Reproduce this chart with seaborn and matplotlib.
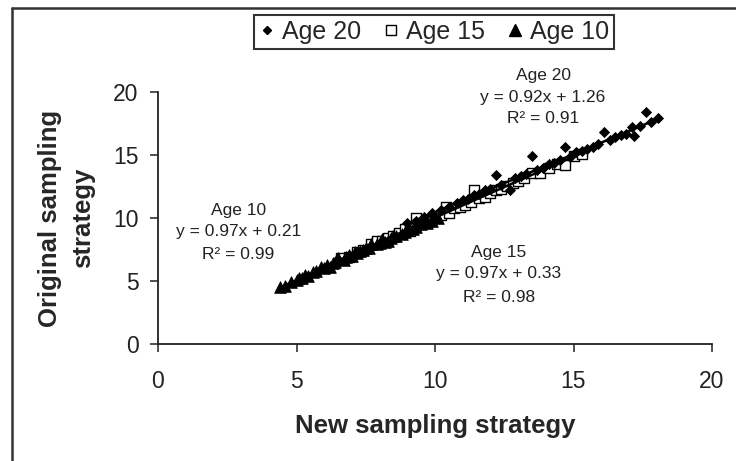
import matplotlib
matplotlib.use("Agg")
import matplotlib.pyplot as plt
from matplotlib.lines import Line2D
import numpy as np
import pandas as pd
import seaborn as sns

# ---- data ----
x10 = [4.4, 4.6, 4.8, 5.0, 5.1, 5.2, 5.3, 5.4, 5.6, 5.7, 5.9, 6.0, 6.1, 6.2, 6.3, 6.4, 6.5, 6.7,
       6.8, 6.9, 7.0, 7.1, 7.2, 7.3, 7.4, 7.5, 7.6, 7.7, 7.9, 8.0, 8.1, 8.2, 8.3, 8.4, 8.5, 8.6,
       8.8, 8.9, 9.0, 9.2, 9.3, 9.5, 9.7, 9.9, 10.1]
y10 = [4.5, 4.6, 4.9, 5.1, 5.2, 5.2, 5.5, 5.4, 5.7, 5.8, 6.1, 6.0, 6.3, 6.1, 6.4, 6.5, 6.8, 6.7,
       6.9, 7.1, 7.0, 7.3, 7.2, 7.4, 7.5, 7.6, 7.6, 7.9, 7.9, 8.0, 8.3, 8.1, 8.2, 8.4, 8.6, 8.6,
       8.7, 8.9, 9.1, 9.1, 9.3, 9.5, 9.6, 9.8, 10.0]

x15 = [6.6, 6.9, 7.2, 7.4, 7.7, 7.9, 8.1, 8.3, 8.5, 8.7, 8.9, 9.1, 9.3, 9.4, 9.6, 9.8, 10.0, 10.2,
       10.4, 10.5, 10.7, 10.9, 11.1, 11.3, 11.4, 11.6, 11.8, 12.0, 12.2, 12.4, 12.6, 12.8, 13.0,
       13.2, 13.5, 13.8, 14.1, 14.4, 14.7, 15.0, 15.3]
y15 = [6.8, 6.9, 7.3, 7.5, 7.9, 8.2, 8.2, 8.4, 8.6, 8.8, 9.1, 9.0, 10.0, 9.5, 9.6, 9.8, 10.1, 10.2,
       10.9, 10.4, 10.8, 10.9, 11.0, 11.3, 12.2, 11.6, 11.7, 12.0, 12.2, 12.3, 12.5, 12.8, 12.9,
       13.2, 13.6, 13.6, 14.0, 14.3, 14.2, 14.9, 15.1]

x20 = [9.0, 9.3, 9.6, 9.9, 10.2, 10.5, 10.8, 11.0, 11.2, 11.4, 11.6, 11.8, 12.0, 12.2, 12.4, 12.7,
       12.9, 13.1, 13.3, 13.5, 13.7, 13.9, 14.1, 14.3, 14.5, 14.7, 14.9, 15.1, 15.3, 15.5, 15.7,
       15.9, 16.1, 16.3, 16.5, 16.7, 16.9, 17.1, 17.2, 17.4, 17.6, 17.8, 18.05]
y20 = [9.6, 9.8, 10.1, 10.4, 10.6, 10.9, 11.2, 11.4, 11.5, 11.8, 11.9, 12.2, 12.3, 13.4, 12.6, 12.2,
       13.2, 13.3, 13.5, 14.9, 13.8, 14.0, 14.3, 14.4, 14.6, 15.6, 14.9, 15.2, 15.3, 15.5, 15.6,
       15.9, 16.8, 16.2, 16.4, 16.6, 16.7, 17.2, 16.5, 17.3, 18.4, 17.6, 17.9]

series = ["Age 20", "Age 15", "Age 10"]
slopes = [0.92, 0.97, 0.97]
intercepts = [1.26, 0.33, 0.21]
r2 = [0.91, 0.98, 0.99]
xticks = [0, 5, 10, 15, 20]
yticks = [0, 5, 10, 15, 20]

df = pd.concat([
    pd.DataFrame({"x": x20, "y": y20, "age": "Age 20"}),
    pd.DataFrame({"x": x15, "y": y15, "age": "Age 15"}),
    pd.DataFrame({"x": x10, "y": y10, "age": "Age 10"}),
])

sns.set_style("white")
plt.rcParams["font.family"] = ["Liberation Sans", "DejaVu Sans"]

fig = plt.figure(figsize=(7.36, 4.61), dpi=100)
ax = fig.add_axes([158 / 736, 1 - 344 / 461, (712 - 158) / 736, (344 - 92) / 461])

# outer frame (only left and top edges are visible in the reference)
fx, fy = 11.5 / 736, 1 - 8.5 / 461
fig.add_artist(Line2D([fx, fx], [0, fy], transform=fig.transFigure, color="#333333", linewidth=1.8))
fig.add_artist(Line2D([fx, 1], [fy, fy], transform=fig.transFigure, color="#333333", linewidth=1.8))

styles = {
    "Age 20": dict(marker="D", s=26, color="black", edgecolor="black", linewidth=0.6),
    "Age 15": dict(marker="s", s=50, facecolor="white", edgecolor="black", linewidth=1.0),
    "Age 10": dict(marker="^", s=70, color="black", edgecolor="black", linewidth=0.6),
}
for name in ["Age 15", "Age 10", "Age 20"]:
    sub = df[df["age"] == name]
    st = styles[name]
    sns.scatterplot(data=sub, x="x", y="y", ax=ax, legend=False, zorder=3, **st)

# trendlines
for name, m, b in zip(series, slopes, intercepts):
    sub = df[df["age"] == name]
    xs = np.array([sub["x"].min(), sub["x"].max()])
    ax.plot(xs, m * xs + b, color="black", linewidth=1.8, zorder=4)

ax.set_xlim(0, 20)
ax.set_ylim(0, 20)
ax.set_xticks(xticks)
ax.set_yticks(yticks)
ax.tick_params(axis="both", which="major", direction="out", length=6, width=1.1,
               colors="#222222", labelsize=16.5, bottom=True, left=True)
ax.tick_params(axis="y", pad=8)
ax.tick_params(axis="x", pad=13)
for sp in ["top", "right"]:
    ax.spines[sp].set_visible(False)
for sp in ["left", "bottom"]:
    ax.spines[sp].set_color("#222222")
    ax.spines[sp].set_linewidth(1.3)

ax.set_xlabel("New sampling strategy", fontsize=18.5, fontweight="bold", labelpad=15)
ax.set_ylabel("Original sampling\nstrategy", fontsize=18.5, fontweight="bold", labelpad=13,
              linespacing=1.45)

# annotations
ann = {
    "Age 20": (13.9, [21.3, 19.6, 17.9]),
    "Age 10": (2.9, [10.6, 8.9, 7.1]),
    "Age 15": (12.3, [7.3, 5.6, 3.7]),
}
for name, m, b, r in zip(series, slopes, intercepts, r2):
    xc, ys = ann[name]
    lines = [name, f"y = {m:.2f}x + {b:.2f}", f"R\u00b2 = {r:.2f}"]
    for t, yy in zip(lines, ys):
        ax.text(xc, yy, t, ha="center", va="center", fontsize=12.5, color="#222222",
                clip_on=False, zorder=5)

handles = [
    Line2D([], [], linestyle="none", marker="D", markersize=4, color="black"),
    Line2D([], [], linestyle="none", marker="s", markersize=7, markerfacecolor="white",
           markeredgecolor="black"),
    Line2D([], [], linestyle="none", marker="^", markersize=8, color="black"),
]
leg = fig.legend(handles, series, loc="center", bbox_to_anchor=(434 / 736, 1 - 32 / 461),
                 ncol=3, frameon=True, fancybox=False, fontsize=18, handlelength=0.6,
                 handletextpad=0.3, columnspacing=0.9, borderpad=0.2, borderaxespad=0)
leg.get_frame().set_edgecolor("black")
leg.get_frame().set_linewidth(1.5)

fig.savefig("out.png", dpi=100)
